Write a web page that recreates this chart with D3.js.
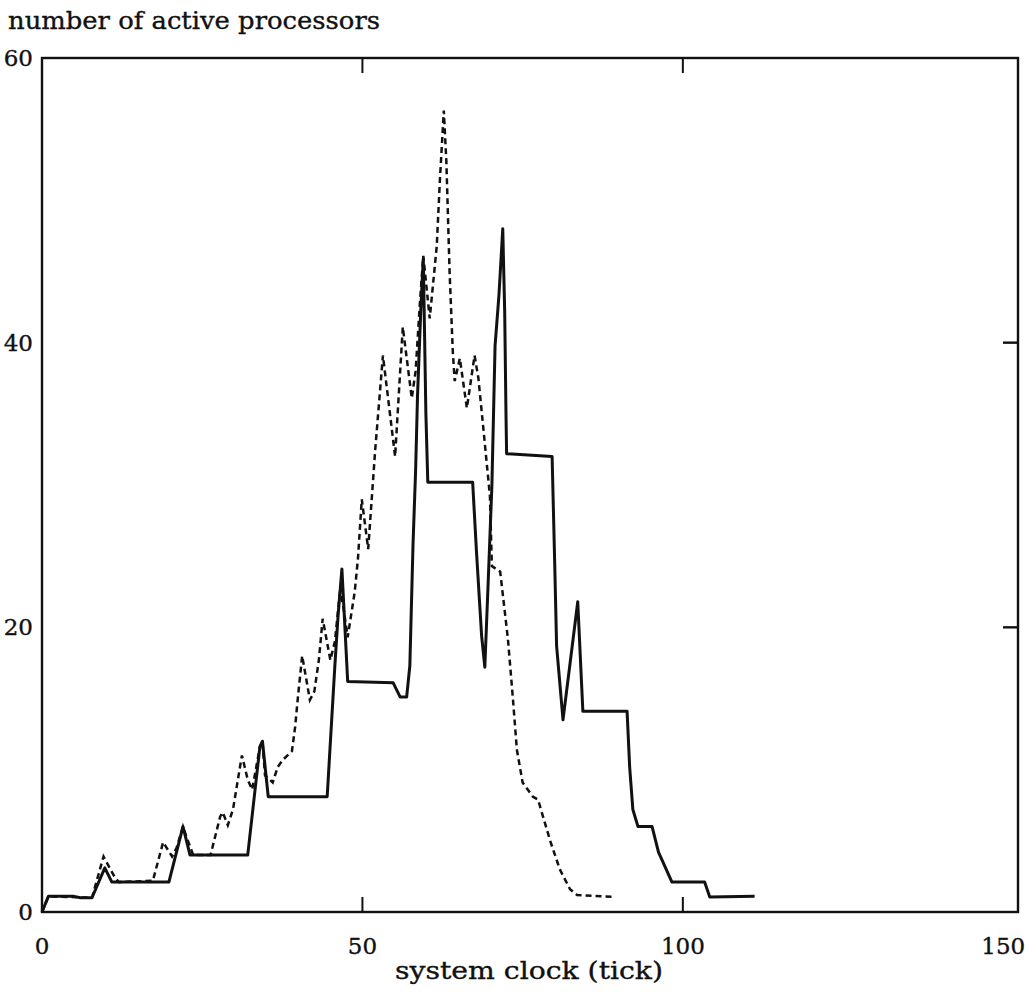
<!DOCTYPE html>
<html>
<head>
<meta charset="utf-8">
<script src="https://cdn.jsdelivr.net/npm/d3@7"></script>
<style>
  body { margin: 0; background: #fff; }
  text { font-family: "DejaVu Serif", "Liberation Serif", serif; fill: #111; stroke: #111; stroke-width: 0.35px; }
</style>
</head>
<body>
<div id="chart"></div>
<script>
// solid curve: [tick, active processors]
const solidSeries = [
  [0, 0], [1, 1.1], [5, 1.1], [6, 1.0], [7.8, 1.0], [9.8, 3.1], [10.9, 2.1], [19.8, 2.1],
  [22, 6], [23.1, 4], [32.1, 4], [34, 11.6], [34.4, 12], [35.3, 8.1], [44.5, 8.1],
  [45.7, 17.3], [46.2, 20.8], [46.8, 24.1], [47.7, 16.2], [54.8, 16.1], [55.9, 15.1],
  [56.9, 15.1], [57.4, 17.3], [57.9, 25.9], [58.3, 31], [58.6, 36.3], [59.1, 42.2],
  [59.5, 45.9], [59.9, 35.1], [60.2, 30.2], [67.2, 30.2], [67.8, 25.3], [68.6, 19.4],
  [69.1, 17.2], [69.6, 22.9], [70.2, 29.9], [70.7, 39.8], [71.3, 43.3], [71.9, 48],
  [72.2, 42.2], [72.4, 35.1], [72.5, 32.2], [79.6, 32], [80, 24.6], [80.3, 18.7],
  [81.3, 13.5], [83.6, 21.8], [84.4, 14.1], [91.3, 14.1], [91.7, 10.2], [92.2, 7.2],
  [93, 6], [95.2, 6], [96.2, 4.2], [98.3, 2.1], [103.4, 2.1], [104.2, 1.06], [111.2, 1.1]
];

// dashed curve
const dashedSeries = [
  [0, 0], [1, 1.1], [7.8, 1.0], [9.6, 3.9], [11.4, 2.4], [12, 2.1], [17.3, 2.2],
  [18.9, 4.9], [20.3, 3.9], [21, 4.5], [22, 6], [22.6, 5.2], [23.6, 4.0], [26.3, 4.0],
  [27.8, 6.7], [28.2, 7], [29, 6.1], [29.8, 7.2], [30.9, 10.2], [31.2, 11], [32.1, 9.3],
  [32.8, 8.6], [34, 11.6], [34.4, 12], [34.8, 9.6], [36, 9.1], [36.8, 10.2], [37.6, 10.7],
  [39, 11.3], [39.5, 13], [40, 15.4], [40.6, 18], [41.8, 14.9], [42.5, 15.5], [43.2, 17.7],
  [43.8, 20.6], [45, 17.7], [45.7, 19], [46.5, 22.5], [47, 21.5], [47.7, 19.3], [48.8, 22.5],
  [49.3, 24.8], [49.9, 29], [50.9, 25.5], [52, 32.5], [53.2, 39.1], [55.1, 32], [56.3, 41.1],
  [57.7, 36.1], [58.3, 38], [59, 43], [59.5, 46.1], [60.5, 41.7], [61, 44], [61.6, 46.8],
  [62.1, 51.5], [62.7, 56.3], [63.1, 52.7], [63.6, 45], [64.1, 39.4], [64.4, 37.3],
  [65.2, 38.9], [66.3, 35.4], [67.5, 39.1], [68.1, 37.5], [68.8, 34.3], [69.9, 29.2],
  [70.2, 24.3], [71.5, 23.9], [72.7, 19.2], [73.5, 14.9], [74.1, 11.4], [75, 9.1],
  [76.6, 8.1], [77.4, 7.9], [79.3, 5.0], [80.8, 3], [82.4, 1.6], [83.5, 1.2], [89.4, 1.05]
];

const xTicks = [0, 50, 100, 150];
const yTicks = [0, 20, 40, 60];

const W = 1036, H = 998;
const plot = { left: 42, right: 1018, top: 58, bottom: 912 };

const svg = d3.select("#chart").append("svg")
  .attr("width", W).attr("height", H);

const x = d3.scaleLinear().domain([0, 152.3]).range([plot.left, plot.right]);
const y = d3.scaleLinear().domain([0, 60]).range([plot.bottom, plot.top]);

// frame
svg.append("rect")
  .attr("x", plot.left).attr("y", plot.top)
  .attr("width", plot.right - plot.left).attr("height", plot.bottom - plot.top)
  .attr("fill", "none").attr("stroke", "#111").attr("stroke-width", 2.4);

// inward ticks
const tickLen = 15;
const innerX = xTicks.filter(d => d > 0 && d < 150);
svg.selectAll(".tb").data(innerX).enter().append("line")
  .attr("x1", d => x(d)).attr("x2", d => x(d))
  .attr("y1", plot.bottom).attr("y2", plot.bottom - tickLen)
  .attr("stroke", "#111").attr("stroke-width", 2);
svg.selectAll(".tt").data(innerX).enter().append("line")
  .attr("x1", d => x(d)).attr("x2", d => x(d))
  .attr("y1", plot.top).attr("y2", plot.top + tickLen)
  .attr("stroke", "#111").attr("stroke-width", 2);
const innerY = yTicks.filter(d => d > 0 && d < 60);
svg.selectAll(".tr").data(innerY).enter().append("line")
  .attr("x1", plot.right).attr("x2", plot.right - tickLen)
  .attr("y1", d => y(d)).attr("y2", d => y(d))
  .attr("stroke", "#111").attr("stroke-width", 2.4);

// tick labels
svg.selectAll(".xl").data(xTicks).enter().append("text")
  .attr("x", d => x(d)).attr("y", plot.bottom + 42)
  .attr("text-anchor", "middle").style("font-size", "23px")
  .text(d => d);
svg.selectAll(".yl").data(yTicks).enter().append("text")
  .attr("x", plot.left - 9).attr("y", d => y(d) + 8)
  .attr("text-anchor", "end").style("font-size", "23px")
  .text(d => d);

// titles
svg.append("text")
  .attr("x", 8).attr("y", 29)
  .attr("textLength", 372).attr("lengthAdjust", "spacingAndGlyphs")
  .style("font-size", "24px")
  .text("number of active processors");
svg.append("text")
  .attr("x", 395).attr("y", 979)
  .attr("textLength", 268).attr("lengthAdjust", "spacingAndGlyphs")
  .style("font-size", "24px")
  .text("system clock (tick)");

const line = d3.line().x(d => x(d[0])).y(d => y(d[1]));

svg.append("path")
  .datum(dashedSeries)
  .attr("d", line)
  .attr("fill", "none").attr("stroke", "#111")
  .attr("stroke-width", 2.5).attr("stroke-dasharray", "6,4");

svg.append("path")
  .datum(solidSeries)
  .attr("d", line)
  .attr("fill", "none").attr("stroke", "#111")
  .attr("stroke-width", 3).attr("stroke-linejoin", "round");
</script>
</body>
</html>
